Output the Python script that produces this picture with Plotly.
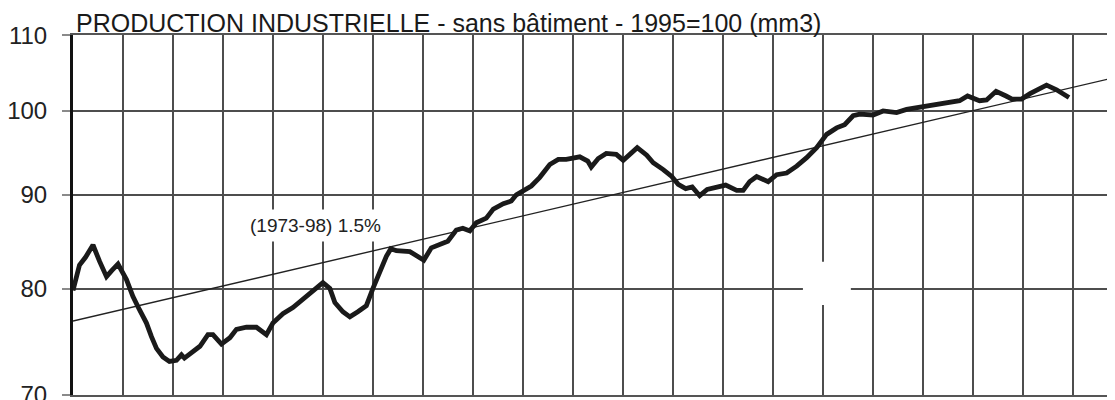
import plotly.graph_objects as go
import math

# ---- data (3-month moving average, 1995=100) ----
years = [
    1979.00, 1979.13, 1979.25, 1979.40, 1979.53, 1979.67, 1979.77, 1979.90,
    1980.07, 1980.20, 1980.33, 1980.47, 1980.57, 1980.67, 1980.80, 1980.93,
    1981.07, 1981.17, 1981.23, 1981.37, 1981.54, 1981.70, 1981.80, 1981.97,
    1982.14, 1982.27, 1982.47, 1982.67, 1982.80, 1982.87, 1983.00, 1983.20,
    1983.40, 1983.60, 1983.80, 1984.00, 1984.14, 1984.24, 1984.40, 1984.54,
    1984.70, 1984.87, 1985.00, 1985.14, 1985.27, 1985.36, 1985.47, 1985.74,
    1985.87, 1986.02, 1986.17, 1986.34, 1986.50, 1986.67, 1986.80, 1986.94,
    1987.07, 1987.27, 1987.41, 1987.61, 1987.77, 1987.87, 1988.07, 1988.17,
    1988.34, 1988.54, 1988.71, 1988.87, 1989.14, 1989.30, 1989.37, 1989.51,
    1989.67, 1989.87, 1990.01, 1990.17, 1990.29, 1990.48, 1990.61, 1990.81,
    1990.98, 1991.11, 1991.26, 1991.39, 1991.54, 1991.69, 1991.88, 1992.06,
    1992.28, 1992.41, 1992.54, 1992.68, 1992.91, 1993.08, 1993.28, 1993.48,
    1993.68, 1993.88, 1994.08, 1994.28, 1994.44, 1994.61, 1994.74, 1995.01,
    1995.21, 1995.48, 1995.68, 1995.94, 1996.21, 1996.48, 1996.74, 1996.90,
    1997.14, 1997.28, 1997.47, 1997.67, 1997.79, 1997.98, 1998.15, 1998.48,
    1998.68, 1998.93,
]
production = [
    79.8, 82.4, 83.2, 84.5, 82.8, 81.2, 81.8, 82.5,
    80.9, 79.2, 77.9, 76.6, 75.3, 74.2, 73.4, 73.0,
    73.1, 73.6, 73.3, 73.8, 74.4, 75.5, 75.5, 74.6,
    75.2, 76.0, 76.2, 76.2, 75.7, 75.5, 76.6, 77.5,
    78.1, 78.9, 79.8, 80.6, 80.0, 78.6, 77.7, 77.2,
    77.7, 78.3, 80.0, 81.7, 83.3, 84.1, 83.9, 83.8,
    83.4, 82.9, 84.2, 84.5, 84.9, 86.1, 86.3, 86.0,
    86.9, 87.4, 88.4, 89.0, 89.3, 90.0, 90.6, 91.0,
    92.0, 93.5, 94.1, 94.1, 94.4, 93.9, 93.2, 94.2,
    94.8, 94.7, 94.0, 94.8, 95.5, 94.6, 93.7, 92.9,
    92.1, 91.2, 90.7, 90.9, 89.9, 90.6, 90.9, 91.1,
    90.5, 90.5, 91.5, 92.1, 91.5, 92.3, 92.5, 93.3,
    94.3, 95.5, 97.1, 97.9, 98.3, 99.4, 99.6, 99.5,
    100.0, 99.8, 100.2, 100.5, 100.7, 101.1, 101.3, 101.9,
    101.3, 101.4, 102.5, 101.9, 101.5, 101.5, 102.2, 103.3,
    102.7, 101.7,
]

# trend line (1973-98, 1.5% per year), end points
trend_years = [1979.0, 1999.85]
trend_values = [76.8, 104.3]

y_ticks = [70, 80, 90, 100, 110]
y_tick_labels = ["70", "80", "90", "100", "110"]

title_text = "PRODUCTION INDUSTRIELLE - sans bâtiment - 1995=100 (mm3)"
trend_label = "(1973-98) 1.5%"

FONT = "Liberation Sans, Arial, Helvetica, sans-serif"
GRID = "#4d4d4d"

fig = go.Figure()
fig.add_trace(go.Scatter(
    x=trend_years, y=trend_values, mode="lines",
    line=dict(color="#222222", width=1.4), hoverinfo="skip", showlegend=False,
))
fig.add_trace(go.Scatter(
    x=years, y=production, mode="lines",
    line=dict(color="#1a1a1a", width=4.8), showlegend=False,
))

# the page body has an 8px margin, so the figure is sized/offset for it
fig.update_layout(
    width=1107, height=392,
    margin=dict(l=65, r=0, t=27, b=5, autoexpand=False),
    paper_bgcolor="white", plot_bgcolor="white",
    font=dict(family=FONT, color="#222222"),
    xaxis=dict(
        range=[trend_years[0], trend_years[1]],
        tick0=1979, dtick=1,
        showgrid=True, gridcolor=GRID, gridwidth=1.6,
        showticklabels=False, ticks="",
        zeroline=False, automargin=False,
        showline=True, linecolor="#555555", linewidth=1.6, mirror=True,
    ),
    yaxis=dict(
        type="log",
        range=[math.log10(y_ticks[0] - 0.02), math.log10(y_ticks[-1] + 0.02)],
        tickmode="array", tickvals=y_ticks, ticktext=y_tick_labels,
        showgrid=True, gridcolor=GRID, gridwidth=1.6,
        ticks="outside", ticklen=8, tickcolor="#8a8a8a", tickwidth=1.5,
        ticklabelstandoff=10, ticklabeloverflow="allow",
        tickfont=dict(size=24, family=FONT, color="#222222"),
        zeroline=False, automargin=False,
        showline=True, linecolor="#111111", linewidth=3,
    ),
    shapes=[
        # white scanning blemish over the grid in the original
        dict(type="rect", xref="paper", yref="paper",
             x0=0.7005, x1=0.7465, y0=0.25, y1=0.37,
             fillcolor="white", line=dict(width=0), layer="above"),
    ],
    annotations=[
        dict(text=title_text, xref="paper", yref="paper", x=0, y=1,
             xanchor="left", yanchor="bottom", xshift=1, yshift=-4,
             showarrow=False, font=dict(size=25, family=FONT, color="#1a1a1a")),
        dict(text=trend_label, xref="paper", yref="paper", x=0.2329, y=0.472,
             xanchor="center", yanchor="middle", showarrow=False,
             bgcolor="white", borderpad=5,
             font=dict(size=19, family=FONT, color="#222222")),
    ],
)

fig.write_html("out.html")
